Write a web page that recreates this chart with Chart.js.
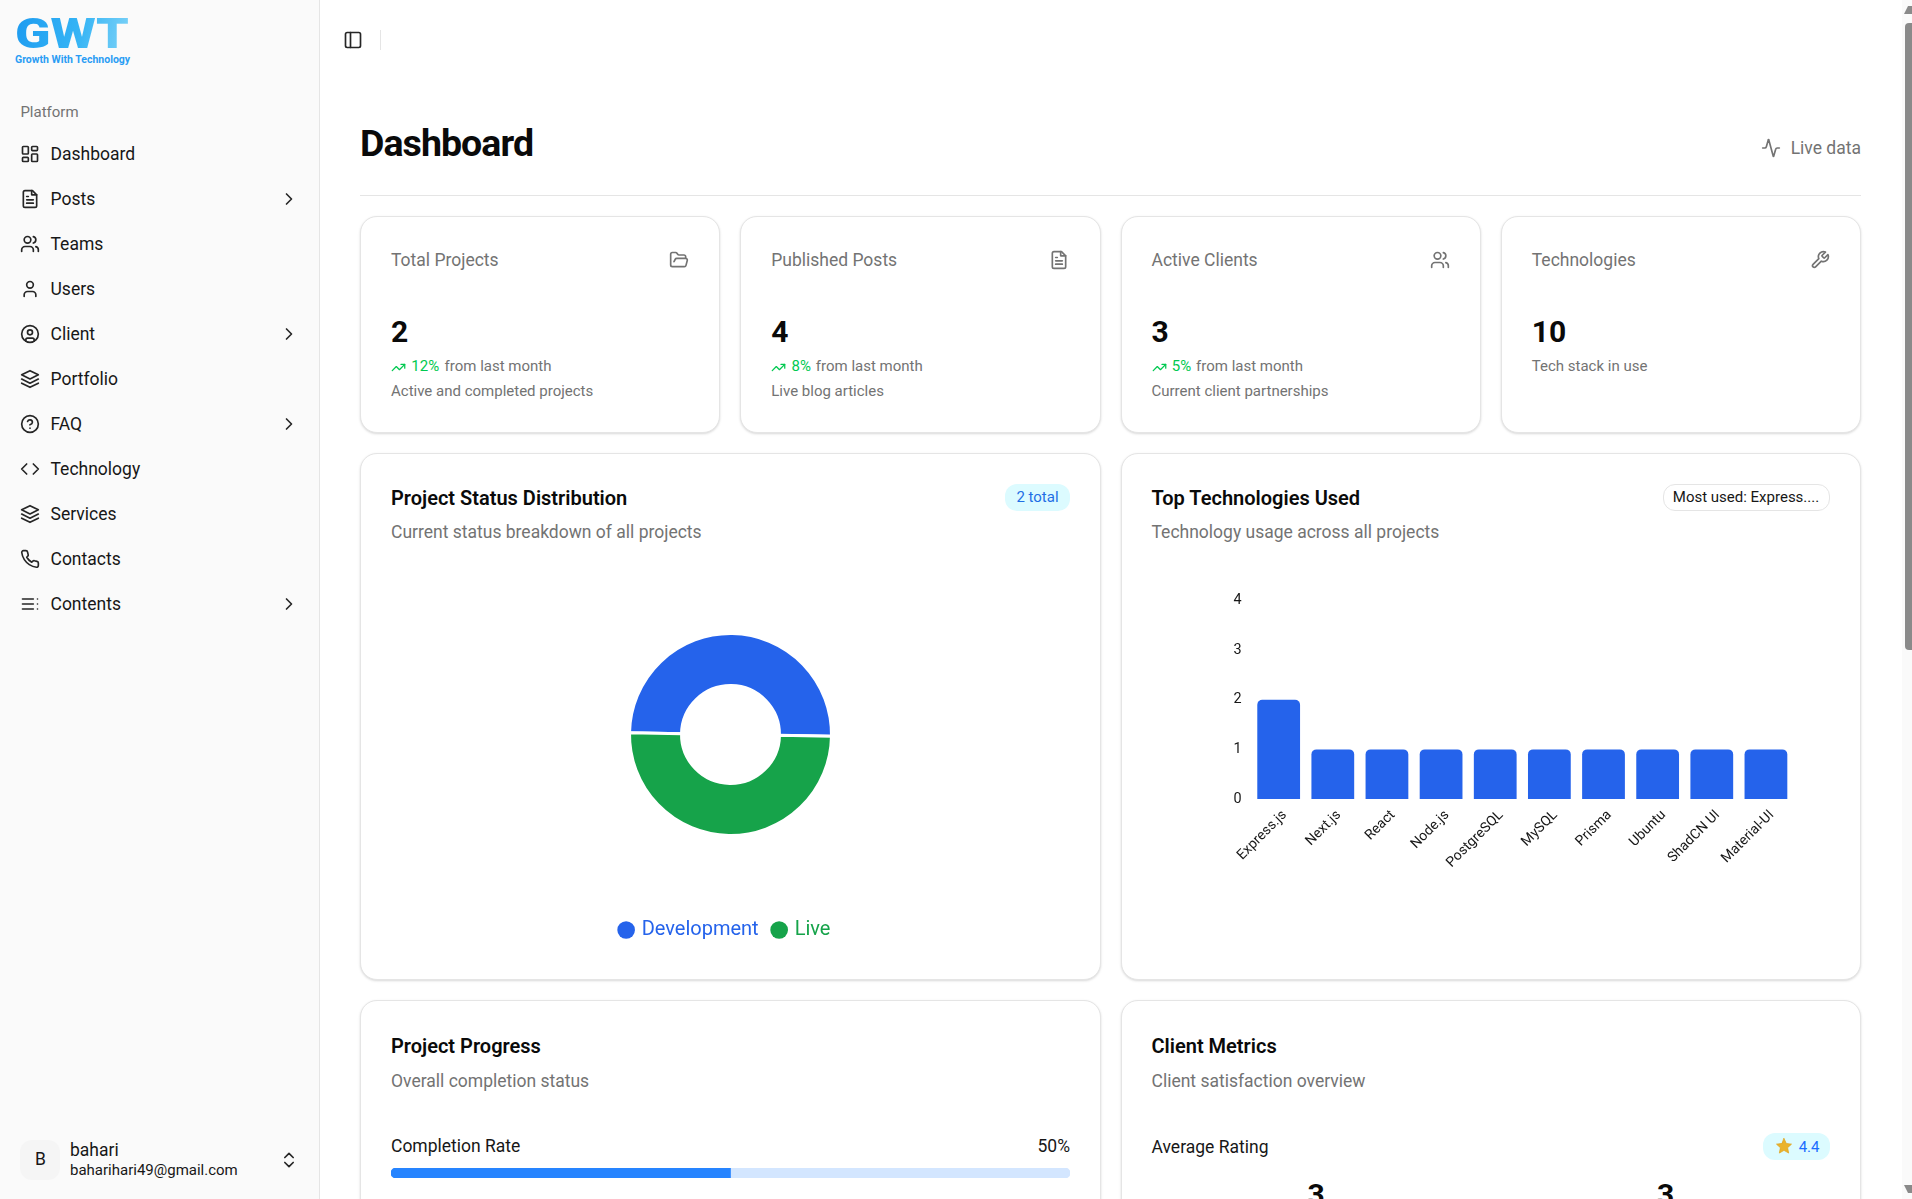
<!DOCTYPE html>
<html lang="en">
<head>
<meta charset="utf-8">
<title>Dashboard</title>
<script src="https://cdn.jsdelivr.net/npm/chart.js@4"></script>
<style>
* { box-sizing: border-box; margin: 0; padding: 0; }
html, body { width: 1912px; height: 1199px; overflow: hidden; background: #fff; font-family: Roboto, sans-serif; color: #0a0a0a; }
.abs, canvas { position: absolute; }
.abs { white-space: nowrap; line-height: 1; transform: translateY(-50%); }
svg { position: absolute; fill: none; stroke: currentColor; stroke-width: 2; stroke-linecap: round; stroke-linejoin: round; }
#sidebar { position: absolute; left: 0; top: 0; width: 320px; height: 1199px; background: #fafafa; border-right: 1px solid #e5e5e5; }
.logo-big { font-size: 42px; font-weight: 900; transform-origin: left center; transform: translateY(-50%) scaleX(1.24);
  background: linear-gradient(100deg, #1d9bf0, #35b4f5 55%, #7fd3f7); -webkit-background-clip: text; background-clip: text; color: transparent; }
.logo-small { font-size: 10.5px; font-weight: 700; color: #2a9df4; }
.nav { font-size: 17.5px; color: #171717; }
.card { position: absolute; background: #fff; border: 1px solid #e5e5e5; border-radius: 17px; box-shadow: 0 1px 3px rgba(0,0,0,.1), 0 1px 2px rgba(0,0,0,.06); }
.stat-title { font-size: 17.5px; color: #737373; }
.stat-num { font-size: 30px; font-weight: 700; }
.small { font-size: 15px; color: #737373; }
.green { font-size: 15px; color: #00c950; }
.head { font-size: 20px; font-weight: 600; }
.sub { font-size: 17.5px; color: #737373; }
.badge { position: absolute; display: flex; align-items: center; justify-content: center; font-size: 15px; border-radius: 12px; }
</style>
</head>
<body>
<div id="sidebar"></div>
<div id="texts"></div>

<canvas id="statusChart"></canvas>
<canvas id="techChart"></canvas>
<canvas id="progressChart"></canvas>

<div style="position:absolute;left:1902px;top:0;width:10px;height:1199px;background:#fafafa"></div>
<div style="position:absolute;left:1905px;top:23px;width:7px;height:627px;background:#8a8a8a;border-radius:4px 0 0 4px"></div>
<div style="position:absolute;left:1904px;top:6px;width:0;height:0;border-left:4px solid transparent;border-right:4px solid #8a8a8a;border-bottom:8px solid #8a8a8a"></div>
<div style="position:absolute;left:1904px;top:1185px;width:0;height:0;border-left:4px solid transparent;border-right:4px solid #8a8a8a;border-top:8px solid #8a8a8a"></div>

<script>
// chart data
var statusLabels = ['Development', 'Live'];
var statusValues = [1, 1];
var statusColors = ['#2563eb', '#16a34a'];

var techLabels = ['Express.js', 'Next.js', 'React', 'Node.js', 'PostgreSQL', 'MySQL', 'Prisma', 'Ubuntu', 'ShadCN UI', 'Material-UI'];
var techValues = [2, 1, 1, 1, 1, 1, 1, 1, 1, 1];
var techTicks = [0, 1, 2, 3, 4];

var completionDone = [50];
var completionLeft = [50];

// page text
var navItems = ['Dashboard', 'Posts', 'Teams', 'Users', 'Client', 'Portfolio', 'FAQ', 'Technology', 'Services', 'Contacts', 'Contents'];
var navWithChevron = ['Posts', 'Client', 'FAQ', 'Contents'];
var statTitles = ['Total Projects', 'Published Posts', 'Active Clients', 'Technologies'];
var statNumbers = ['2', '4', '3', '10'];
var statTrends = ['12%', '8%', '5%', ''];
var statNotes = ['Active and completed projects', 'Live blog articles', 'Current client partnerships', 'Tech stack in use'];

var icons = {
    Dashboard: '<rect x="3" y="3" width="7" height="9" rx="1"/><rect x="14" y="3" width="7" height="5" rx="1"/><rect x="14" y="12" width="7" height="9" rx="1"/><rect x="3" y="16" width="7" height="5" rx="1"/>',
    Posts: '<path d="M15 2H6a2 2 0 0 0-2 2v16a2 2 0 0 0 2 2h12a2 2 0 0 0 2-2V7z"/><path d="M14 2v5h6M16 13H8M16 17H8M10 9H8"/>',
    Teams: '<path d="M16 21v-2a4 4 0 0 0-4-4H6a4 4 0 0 0-4 4v2"/><circle cx="9" cy="7" r="4"/><path d="M22 21v-2a4 4 0 0 0-3-3.87M16 3.13a4 4 0 0 1 0 7.75"/>',
    Users: '<path d="M19 21v-2a4 4 0 0 0-4-4H9a4 4 0 0 0-4 4v2"/><circle cx="12" cy="7" r="4"/>',
    Client: '<circle cx="12" cy="12" r="10"/><circle cx="12" cy="10" r="3"/><path d="M7 20.7V19a2 2 0 0 1 2-2h6a2 2 0 0 1 2 2v1.7"/>',
    Portfolio: '<path d="M12 2 2 7l10 5 10-5z"/><path d="m2 12 10 5 10-5M2 17l10 5 10-5"/>',
    FAQ: '<circle cx="12" cy="12" r="10"/><path d="M9.1 9a3 3 0 0 1 5.8 1c0 2-3 3-3 3M12 17h.01"/>',
    Technology: '<path d="m16 18 6-6-6-6M8 6l-6 6 6 6"/>',
    Services: '<path d="M12 2 2 7l10 5 10-5z"/><path d="m2 12 10 5 10-5M2 17l10 5 10-5"/>',
    Contacts: '<path d="M22 16.9v3a2 2 0 0 1-2.2 2 19.8 19.8 0 0 1-8.6-3.1 19.5 19.5 0 0 1-6-6A19.8 19.8 0 0 1 2.1 4.2 2 2 0 0 1 4.1 2h3a2 2 0 0 1 2 1.7c.1 1 .4 1.9.7 2.8a2 2 0 0 1-.5 2.1L8.1 9.9a16 16 0 0 0 6 6l1.3-1.3a2 2 0 0 1 2.1-.4c.9.3 1.8.6 2.8.7a2 2 0 0 1 1.7 2z"/>',
    Contents: '<path d="M3 6h13M3 12h13M3 18h13M21 6h.01M21 12h.01M21 18h.01"/>',
    chevron: '<path d="m9 18 6-6-6-6"/>',
    folder: '<path d="m6 14 1.5-2.9A2 2 0 0 1 9.2 10H20a2 2 0 0 1 1.9 2.5l-1.5 6a2 2 0 0 1-2 1.5H4a2 2 0 0 1-2-2V5c0-1.1.9-2 2-2h3.9a2 2 0 0 1 1.7.9l.8 1.2a2 2 0 0 0 1.7.9H18a2 2 0 0 1 2 2v2"/>',
    wrench: '<path d="M14.7 6.3a1 1 0 0 0 0 1.4l1.6 1.6a1 1 0 0 0 1.4 0l3.8-3.8a6 6 0 0 1-7.9 7.9l-6.9 6.9a2.1 2.1 0 0 1-3-3l6.9-6.9a6 6 0 0 1 7.9-7.9z"/>',
    trend: '<path d="m22 7-8.5 8.5-5-5L2 17"/><path d="M16 7h6v6"/>',
    panel: '<rect x="3" y="3" width="18" height="18" rx="2"/><path d="M9 3v18"/>',
    activity: '<path d="M22 12h-2.5a2 2 0 0 0-1.9 1.5l-2.4 8.3a.25.25 0 0 1-.5 0L9.3 2.2a.25.25 0 0 0-.5 0l-2.4 8.3A2 2 0 0 1 4.5 12H2"/>',
    updown: '<path d="m7 15 5 5 5-5M7 9l5-5 5 5"/>'
};
var statIcons = [icons.folder, icons.Posts, icons.Teams, icons.wrench];

var out = '';
function text(x, y, cls, str, style) {
    out += '<div class="abs ' + cls + '" style="left:' + x + 'px;top:' + y + 'px;' + (style || '') + '">' + str + '</div>';
}
function icon(x, y, size, body, color) {
    out += '<svg viewBox="0 0 24 24" style="left:' + x + 'px;top:' + (y - size / 2) + 'px;width:' + size + 'px;height:' + size + 'px;color:' + color + '">' + body + '</svg>';
}
function box(cls, x, y, w, h, style, inner) {
    out += '<div class="' + cls + '" style="left:' + x + 'px;top:' + y + 'px;width:' + w + 'px;height:' + h + 'px;' + (style || '') + '">' + (inner || '') + '</div>';
}

// sidebar
text(15, 33.5, 'logo-big', 'GWT');
text(15, 59.5, 'logo-small', 'Growth With Technology');
text(20.4, 112, '', 'Platform', 'font-size:15px;color:#737373');
navItems.forEach(function(name, i) {
    var y = 153.6 + i * 45.05;
    icon(20, y, 20, icons[name], '#262626');
    text(50.5, y + 1.2, 'nav', name);
    if (navWithChevron.indexOf(name) >= 0) {
        icon(278.7, y, 20, icons.chevron, '#262626');
    }
});
box('', 20, 1140, 40, 40, 'position:absolute;background:#f5f5f5;border-radius:12px');
text(35, 1160, '', 'B', 'font-size:17.5px;color:#171717');
text(70, 1151, '', 'bahari', 'font-size:17.5px;color:#171717');
text(70, 1169.5, '', 'baharihari49@gmail.com', 'font-size:15px;color:#171717');
icon(278.7, 1160, 20, icons.updown, '#262626');

// header
icon(343, 40, 20, icons.panel, '#262626');
box('', 380, 30, 1, 20, 'position:absolute;background:#e5e5e5');
text(360, 143.5, '', 'Dashboard', 'font-size:37.5px;font-weight:700;letter-spacing:-0.94px');
icon(1761, 148, 20, icons.activity, '#737373');
text(0, 149, '', 'Live data', 'left:auto;right:51px;font-size:17.5px;color:#737373');
box('', 360, 195, 1501, 1, 'position:absolute;background:#e5e5e5');

// stat cards
statTitles.forEach(function(title, i) {
    var x = 360 + i * 380.25;
    box('card', x, 216, 360.25, 216.5);
    text(x + 31, 261, 'stat-title', title);
    icon(x + 309, 260, 20, statIcons[i], '#737373');
    text(x + 31, 331.5, 'stat-num', statNumbers[i]);
    if (statTrends[i]) {
        icon(x + 31, 367, 15, icons.trend, '#00c950');
        text(x + 51.3, 366, 'green', statTrends[i]);
        text(x + (i === 0 ? 84.6 : 75.6), 366, 'small', 'from last month');
        text(x + 31, 391, 'small', statNotes[i]);
    } else {
        text(x + 31, 366, 'small', statNotes[i]);
    }
});

// chart cards
box('card', 360, 453, 741, 526.5);
box('card', 1120.5, 453, 740.5, 526.5);
text(391, 498, 'head', 'Project Status Distribution');
text(391, 532.5, 'sub', 'Current status breakdown of all projects');
box('badge', 1005, 484, 65, 26.5, 'background:#dcfbff;color:#1f6fe5', '2 total');
text(1151.5, 498, 'head', 'Top Technologies Used');
text(1151.5, 532.5, 'sub', 'Technology usage across all projects');
box('badge', 1662.5, 484, 167, 26.5, 'background:#fff;border:1px solid #e5e5e5;color:#171717', 'Most used: Express....');

// bottom cards
box('card', 360, 1000, 741, 300);
box('card', 1120.5, 1000, 740.5, 300);
text(391, 1046, 'head', 'Project Progress');
text(391, 1082, 'sub', 'Overall completion status');
text(391, 1147, '', 'Completion Rate', 'font-size:17.5px;color:#171717');
text(0, 1147, '', '50%', 'left:auto;right:842px;font-size:17.5px;color:#171717');
text(1151.5, 1046, 'head', 'Client Metrics');
text(1151.5, 1082, 'sub', 'Client satisfaction overview');
text(1151.5, 1147.5, '', 'Average Rating', 'font-size:17.5px;color:#171717');
box('badge', 1763, 1133, 66.5, 27, 'background:#dcfbff;color:#1a6dff;justify-content:flex-end;padding-right:10px', '4.4');
out += '<svg viewBox="0 0 24 24" style="left:1775px;top:1137px;width:18px;height:18px;fill:#eab32b;stroke:#e0a420;stroke-width:1"><path d="M12 2l3 6.6 7 .9-5.2 4.8 1.4 7.1L12 17.8 5.8 21.4l1.4-7.1L2 9.5l7-.9z"/></svg>';
text(1307.6, 1195, 'stat-num', '3');
text(1657, 1195, 'stat-num', '3');

document.getElementById('texts').innerHTML = out;

function place(id, x, y, w, h) {
    var c = document.getElementById(id);
    c.style.left = x + 'px';
    c.style.top = y + 'px';
    c.style.width = w + 'px';
    c.style.height = h + 'px';
    return c;
}

Chart.defaults.font.family = 'Roboto';
Chart.defaults.animation = false;

// doughnut for status
new Chart(place('statusChart', 391, 563.5, 679, 386), {
    type: 'doughnut',
    data: {
        labels: statusLabels,
        datasets: [{
            data: statusValues,
            backgroundColor: statusColors,
            borderColor: '#ffffff',
            borderWidth: 3,
            radius: 101,
            cutout: '48.5%',
            rotation: -89
        }]
    },
    options: {
        responsive: false,
        plugins: {
            tooltip: { enabled: false },
            legend: {
                position: 'bottom',
                labels: {
                    usePointStyle: true,
                    pointStyle: 'circle',
                    padding: 15,
                    boxWidth: 11,
                    boxHeight: 12.5,
                    font: { size: 20 },
                    generateLabels: function(chart) {
                        return statusLabels.map(function(label, i) {
                            return {
                                // trailing spaces keep the legend a little left of the ring, as in the original
                                text: i === statusLabels.length - 1 ? label + '  ' : label,
                                fillStyle: statusColors[i],
                                strokeStyle: statusColors[i],
                                fontColor: statusColors[i],
                                lineWidth: 0,
                                pointStyle: 'circle',
                                index: i
                            };
                        });
                    }
                }
            }
        }
    }
});

// bars for technology usage
new Chart(place('techChart', 1151, 582, 710, 327), {
    type: 'bar',
    data: {
        labels: techLabels,
        datasets: [{
            data: techValues,
            backgroundColor: '#2563eb',
            borderRadius: { topLeft: 5, topRight: 5 },
            borderSkipped: 'bottom',
            barPercentage: 0.79,
            categoryPercentage: 1
        }]
    },
    options: {
        responsive: false,
        layout: { autoPadding: false, padding: { top: 10, right: 68, left: 0, bottom: 0 } },
        plugins: { legend: { display: false }, tooltip: { enabled: false } },
        scales: {
            x: {
                grid: { display: false, drawTicks: false },
                border: { display: false },
                afterFit: function(scale) { scale.height = 110; },
                ticks: { autoSkip: false, minRotation: 45, maxRotation: 45, padding: 8, labelOffset: 6, color: '#171717', font: { size: 14 } }
            },
            y: {
                min: techTicks[0],
                max: techTicks[techTicks.length - 1],
                grid: { display: false, drawTicks: false },
                border: { display: false },
                afterFit: function(scale) { scale.width = 100.6; },
                ticks: { stepSize: 1, padding: 10, color: '#171717', font: { size: 14.4 } }
            }
        }
    }
});

// completion bar, two stacked pieces
new Chart(place('progressChart', 391, 1168, 679, 10), {
    type: 'bar',
    data: {
        labels: ['Completion Rate'],
        datasets: [
            { data: completionDone, backgroundColor: '#2684ff', borderRadius: { topLeft: 5, bottomLeft: 5 }, borderSkipped: false, barPercentage: 1, categoryPercentage: 1 },
            { data: completionLeft, backgroundColor: '#d3e6ff', borderRadius: { topRight: 5, bottomRight: 5 }, borderSkipped: false, barPercentage: 1, categoryPercentage: 1 }
        ]
    },
    options: {
        responsive: false,
        indexAxis: 'y',
        layout: { padding: 0 },
        plugins: { legend: { display: false }, tooltip: { enabled: false } },
        scales: {
            x: { display: false, stacked: true, min: 0, max: 100 },
            y: { display: false, stacked: true }
        }
    }
});
</script>
</body>
</html>
